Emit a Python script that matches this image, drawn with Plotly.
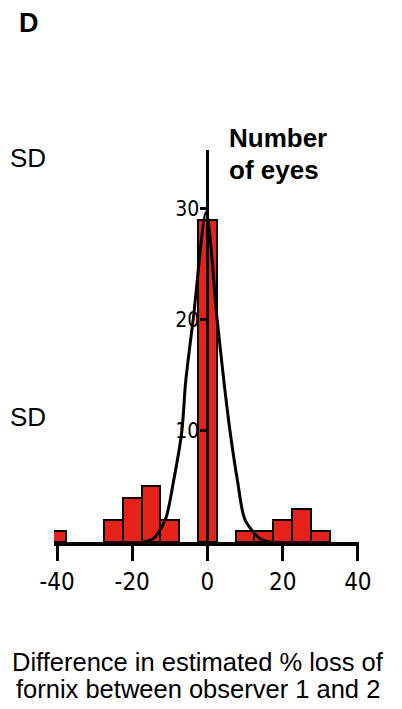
import plotly.graph_objects as go

# ---- data ----
bin_centers = [-40, -25, -20, -15, -10, 0, 10, 15, 20, 25, 30]
counts = [1, 2, 4, 5, 2, 29, 1, 1, 2, 3, 1]
bin_width = 5

curve_x = [-17, -14.4, -11.2, -9.0, -6.8, -5.8, -3.7, -0.35, 2.5, 4.4, 6.0, 8.0, 10.0, 14.0, 17.0]
curve_y = [0, 0.3, 2.0, 5.5, 10.0, 14.4, 20.3, 29.7, 20.3, 14.4, 10.0, 5.5, 2.0, 0.3, 0]

x_ticks = [-40, -20, 0, 20, 40]
x_ticklabels = ["-40", "-20", "0", "20", "40"]
y_ticks = [10, 20, 30]
y_ticklabels = ["10", "20", "30"]

# ---- layout constants (page offset of 8px from the default body margin) ----
OFF = 8
W, H = 402 - OFF, 709 - OFF
L, R, T, B = 54 - OFF, 43, 150 - OFF, 167
PW, PH = W - L - R, H - T - B
X_RANGE = [-40.8, 40.3]
Y_RANGE = [0, 35.3]


def px(xp):
    return (xp - OFF - L) / PW


def py(yp):
    return (H - B - (yp - OFF)) / PH


yaxis_pos = (0 - X_RANGE[0]) / (X_RANGE[1] - X_RANGE[0])

fig = go.Figure()
fig.add_trace(go.Bar(
    x=bin_centers, y=counts, width=[bin_width] * len(bin_centers),
    marker=dict(color="#e5231b", line=dict(color="black", width=2)),
    showlegend=False, hoverinfo="skip",
))
fig.add_trace(go.Scatter(
    x=curve_x, y=curve_y, mode="lines",
    line=dict(color="black", width=3, shape="spline", smoothing=0.8),
    showlegend=False, hoverinfo="skip",
))

narrow = "Liberation Sans Narrow, DejaVu Sans Condensed, Arial Narrow, sans-serif"
fig.update_layout(
    width=W, height=H,
    margin=dict(l=L, r=R, t=T, b=B, pad=0),
    paper_bgcolor="white", plot_bgcolor="white",
    bargap=0,
    xaxis=dict(
        range=X_RANGE, showgrid=False, zeroline=False,
        showline=True, linecolor="black", linewidth=4,
        ticks="outside", ticklen=15, tickwidth=3, tickcolor="black",
        tickvals=x_ticks, ticktext=x_ticklabels,
        tickfont=dict(family=narrow, size=24, color="black"),
    ),
    yaxis=dict(
        range=Y_RANGE, showgrid=False, zeroline=False,
        anchor="free", position=yaxis_pos,
        showline=True, linecolor="black", linewidth=3,
        ticks="outside", ticklen=6, tickwidth=3, tickcolor="black",
        tickvals=y_ticks, ticktext=y_ticklabels,
        tickfont=dict(family=narrow, size=21, color="black"),
        ticklabelstandoff=-3,
    ),
    font=dict(family="Liberation Sans, Arial, sans-serif", color="black"),
)

ann = dict(xref="paper", yref="paper", showarrow=False)
base = "Liberation Sans, Arial, sans-serif"
fig.add_annotation(**ann, x=px(17), y=py(22.5), xanchor="left", yanchor="middle",
                   text="<b>D</b>", font=dict(family=base, size=27, color="black"))
fig.add_annotation(**ann, x=px(8), y=py(157.5), xanchor="left", yanchor="middle",
                   text="SD", font=dict(family=base, size=26, color="black"))
fig.add_annotation(**ann, x=px(8), y=py(417), xanchor="left", yanchor="middle",
                   text="SD", font=dict(family=base, size=26, color="black"))
fig.add_annotation(**ann, x=px(227), y=py(138), xanchor="left", yanchor="middle",
                   text="<b>Number</b>", font=dict(family=base, size=26, color="black"))
fig.add_annotation(**ann, x=px(227), y=py(170), xanchor="left", yanchor="middle",
                   text="<b>of eyes</b>", font=dict(family=base, size=26, color="black"))
fig.add_annotation(**ann, x=px(198), y=py(661.5), xanchor="center", yanchor="middle",
                   text="Difference in estimated % loss of", font=dict(family=base, size=25.5, color="black"))
fig.add_annotation(**ann, x=px(198), y=py(689), xanchor="center", yanchor="middle",
                   text="fornix between observer 1 and 2", font=dict(family=base, size=25.5, color="black"))

fig.write_html("out.html")
